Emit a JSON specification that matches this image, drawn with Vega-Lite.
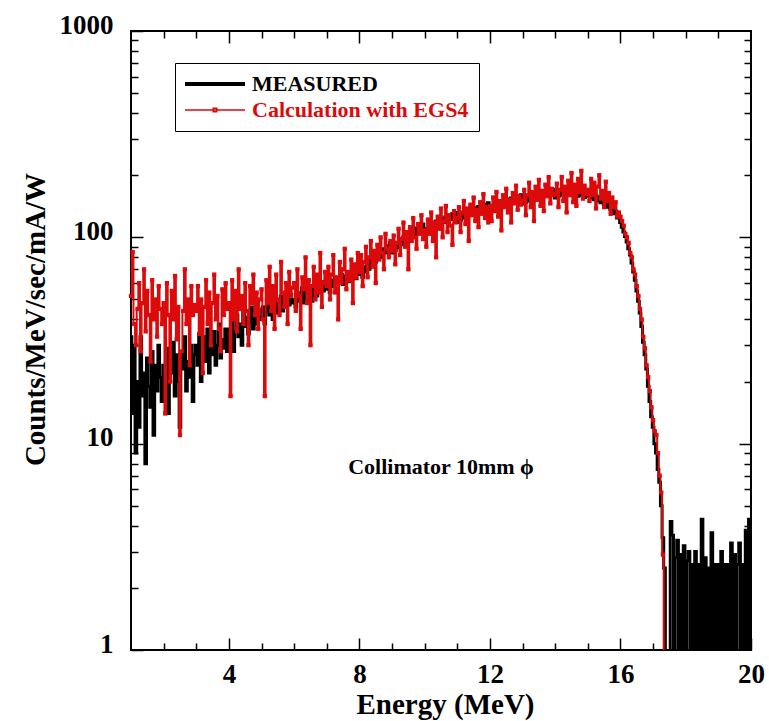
{
"$schema": "https://vega.github.io/schema/vega-lite/v6.json",
"width": 620, "height": 619,
"autosize": {"type": "none"},
"padding": {"left": 131, "top": 31, "right": 18, "bottom": 71},
"background": "white",
"config": {
 "view": {"stroke": "black", "strokeWidth": 2},
 "font": "Liberation Serif",
 "axis": {"labelFont": "Liberation Serif", "labelFontWeight": "bold", "labelFontSize": 27, "labelColor": "black", "titleFont": "Liberation Serif", "titleFontWeight": "bold", "titleColor": "black", "domain": false, "grid": false, "tickColor": "black", "tickWidth": 1.5}
},
"data": {"values": [
{"e":1.00,"m":33,"c":52},{"e":1.05,"m":14,"c":85},{"e":1.10,"m":30,"c":38},{"e":1.15,"m":9,"c":30},{"e":1.20,"m":20,"c":45},{"e":1.25,"m":12,"c":60},{"e":1.30,"m":33,"c":28},{"e":1.35,"m":17,"c":48},{"e":1.40,"m":22,"c":70},{"e":1.45,"m":8,"c":35},{"e":1.50,"m":26,"c":55},{"e":1.55,"m":19,"c":42},{"e":1.60,"m":15,"c":25},{"e":1.65,"m":28,"c":62},{"e":1.70,"m":11,"c":40},{"e":1.75,"m":24,"c":50},{"e":1.80,"m":18,"c":33},{"e":1.85,"m":30,"c":58},{"e":1.90,"m":21,"c":45},{"e":1.95,"m":16,"c":38},
{"e":2.00,"m":24,"c":48},{"e":2.05,"m":19,"c":14},{"e":2.10,"m":29,"c":60},{"e":2.15,"m":14,"c":42},{"e":2.20,"m":26,"c":20},{"e":2.25,"m":22,"c":55},{"e":2.30,"m":31,"c":40},{"e":2.35,"m":17,"c":65},{"e":2.40,"m":27,"c":32},{"e":2.45,"m":20,"c":46},{"e":2.50,"m":12,"c":11},{"e":2.55,"m":28,"c":28},{"e":2.60,"m":23,"c":44},{"e":2.65,"m":33,"c":70},{"e":2.70,"m":18,"c":38},{"e":2.75,"m":25,"c":50},{"e":2.80,"m":21,"c":24},{"e":2.85,"m":30,"c":58},{"e":2.90,"m":16,"c":42},{"e":2.95,"m":27,"c":47},
{"e":3.00,"m":30,"c":44},{"e":3.05,"m":24,"c":58},{"e":3.10,"m":34,"c":34},{"e":3.15,"m":20,"c":50},{"e":3.20,"m":28,"c":22},{"e":3.25,"m":33,"c":46},{"e":3.30,"m":25,"c":62},{"e":3.35,"m":36,"c":38},{"e":3.40,"m":22,"c":54},{"e":3.45,"m":31,"c":30},{"e":3.50,"m":27,"c":48},{"e":3.55,"m":35,"c":66},{"e":3.60,"m":24,"c":40},{"e":3.65,"m":30,"c":52},{"e":3.70,"m":38,"c":36},{"e":3.75,"m":26,"c":28},{"e":3.80,"m":32,"c":56},{"e":3.85,"m":29,"c":42},{"e":3.90,"m":36,"c":60},{"e":3.95,"m":28,"c":45},
{"e":4.00,"m":36,"c":48},{"e":4.05,"m":31,"c":17},{"e":4.10,"m":40,"c":62},{"e":4.15,"m":28,"c":40},{"e":4.20,"m":35,"c":55},{"e":4.25,"m":42,"c":35},{"e":4.30,"m":33,"c":70},{"e":4.35,"m":38,"c":45},{"e":4.40,"m":30,"c":52},{"e":4.45,"m":44,"c":38},{"e":4.50,"m":37,"c":60},{"e":4.55,"m":41,"c":44},{"e":4.60,"m":34,"c":30},{"e":4.65,"m":39,"c":58},{"e":4.70,"m":46,"c":48},{"e":4.75,"m":36,"c":66},{"e":4.80,"m":42,"c":42},{"e":4.85,"m":38,"c":54},{"e":4.90,"m":45,"c":36},{"e":4.95,"m":40,"c":50},
{"e":5.00,"m":41,"c":56},{"e":5.05,"m":46,"c":40},{"e":5.10,"m":38,"c":17},{"e":5.15,"m":44,"c":62},{"e":5.20,"m":49,"c":48},{"e":5.25,"m":42,"c":72},{"e":5.30,"m":47,"c":44},{"e":5.35,"m":40,"c":58},{"e":5.40,"m":50,"c":36},{"e":5.45,"m":45,"c":66},{"e":5.50,"m":43,"c":50},{"e":5.55,"m":48,"c":42},{"e":5.60,"m":52,"c":76},{"e":5.65,"m":44,"c":54},{"e":5.70,"m":49,"c":46},{"e":5.75,"m":46,"c":60},{"e":5.80,"m":51,"c":38},{"e":5.85,"m":47,"c":68},{"e":5.90,"m":53,"c":52},{"e":5.95,"m":48,"c":57},
{"e":6.00,"m":50,"c":60},{"e":6.05,"m":46,"c":44},{"e":6.10,"m":54,"c":70},{"e":6.15,"m":49,"c":52},{"e":6.20,"m":52,"c":36},{"e":6.25,"m":57,"c":64},{"e":6.30,"m":48,"c":56},{"e":6.35,"m":55,"c":80},{"e":6.40,"m":51,"c":48},{"e":6.45,"m":58,"c":62},{"e":6.50,"m":53,"c":30},{"e":6.55,"m":49,"c":58},{"e":6.60,"m":56,"c":72},{"e":6.65,"m":60,"c":50},{"e":6.70,"m":52,"c":66},{"e":6.75,"m":57,"c":54},{"e":6.80,"m":54,"c":84},{"e":6.85,"m":61,"c":46},{"e":6.90,"m":55,"c":60},{"e":6.95,"m":59,"c":68},
{"e":7.00,"m":56,"c":58},{"e":7.05,"m":60,"c":72},{"e":7.10,"m":54,"c":50},{"e":7.15,"m":62,"c":66},{"e":7.20,"m":58,"c":82},{"e":7.25,"m":64,"c":54},{"e":7.30,"m":57,"c":64},{"e":7.35,"m":63,"c":40},{"e":7.40,"m":60,"c":76},{"e":7.45,"m":66,"c":60},{"e":7.50,"m":59,"c":70},{"e":7.55,"m":65,"c":88},{"e":7.60,"m":62,"c":56},{"e":7.65,"m":68,"c":68},{"e":7.70,"m":61,"c":62},{"e":7.75,"m":67,"c":78},{"e":7.80,"m":64,"c":48},{"e":7.85,"m":70,"c":74},{"e":7.90,"m":63,"c":64},{"e":7.95,"m":69,"c":84},
{"e":8.00,"m":66,"c":68},{"e":8.05,"m":70,"c":82},{"e":8.10,"m":64,"c":58},{"e":8.15,"m":72,"c":76},{"e":8.20,"m":68,"c":90},{"e":8.25,"m":75,"c":64},{"e":8.30,"m":70,"c":80},{"e":8.35,"m":78,"c":96},{"e":8.40,"m":73,"c":72},{"e":8.45,"m":80,"c":86},{"e":8.50,"m":76,"c":60},{"e":8.55,"m":83,"c":92},{"e":8.60,"m":78,"c":78},{"e":8.65,"m":86,"c":100},{"e":8.70,"m":80,"c":84},{"e":8.75,"m":88,"c":70},{"e":8.80,"m":84,"c":104},{"e":8.85,"m":91,"c":88},{"e":8.90,"m":86,"c":80},{"e":8.95,"m":94,"c":96},
{"e":9.00,"m":84,"c":86},{"e":9.05,"m":90,"c":102},{"e":9.10,"m":86,"c":74},{"e":9.15,"m":94,"c":94},{"e":9.20,"m":89,"c":110},{"e":9.25,"m":97,"c":82},{"e":9.30,"m":92,"c":98},{"e":9.35,"m":100,"c":118},{"e":9.40,"m":95,"c":90},{"e":9.45,"m":103,"c":106},{"e":9.50,"m":97,"c":70},{"e":9.55,"m":106,"c":112},{"e":9.60,"m":100,"c":96},{"e":9.65,"m":108,"c":124},{"e":9.70,"m":103,"c":100},{"e":9.75,"m":111,"c":88},{"e":9.80,"m":106,"c":116},{"e":9.85,"m":114,"c":104},{"e":9.90,"m":108,"c":128},{"e":9.95,"m":116,"c":98},
{"e":10.00,"m":102,"c":108},{"e":10.05,"m":110,"c":90},{"e":10.10,"m":105,"c":122},{"e":10.15,"m":114,"c":104},{"e":10.20,"m":108,"c":132},{"e":10.25,"m":117,"c":96},{"e":10.30,"m":111,"c":118},{"e":10.35,"m":120,"c":80},{"e":10.40,"m":114,"c":126},{"e":10.45,"m":122,"c":110},{"e":10.50,"m":116,"c":138},{"e":10.55,"m":124,"c":100},{"e":10.60,"m":118,"c":120},{"e":10.65,"m":126,"c":142},{"e":10.70,"m":120,"c":106},{"e":10.75,"m":128,"c":128},{"e":10.80,"m":122,"c":114},{"e":10.85,"m":130,"c":92},{"e":10.90,"m":124,"c":134},{"e":10.95,"m":132,"c":118},
{"e":11.00,"m":118,"c":124},{"e":11.05,"m":126,"c":140},{"e":11.10,"m":121,"c":106},{"e":11.15,"m":129,"c":132},{"e":11.20,"m":124,"c":150},{"e":11.25,"m":132,"c":116},{"e":11.30,"m":126,"c":138},{"e":11.35,"m":134,"c":96},{"e":11.40,"m":129,"c":144},{"e":11.45,"m":137,"c":128},{"e":11.50,"m":131,"c":156},{"e":11.55,"m":139,"c":120},{"e":11.60,"m":133,"c":136},{"e":11.65,"m":141,"c":112},{"e":11.70,"m":135,"c":148},{"e":11.75,"m":143,"c":130},{"e":11.80,"m":137,"c":162},{"e":11.85,"m":145,"c":124},{"e":11.90,"m":139,"c":140},{"e":11.95,"m":147,"c":118},
{"e":12.00,"m":132,"c":142},{"e":12.05,"m":140,"c":120},{"e":12.10,"m":135,"c":156},{"e":12.15,"m":143,"c":134},{"e":12.20,"m":138,"c":166},{"e":12.25,"m":146,"c":126},{"e":12.30,"m":140,"c":150},{"e":12.35,"m":148,"c":108},{"e":12.40,"m":143,"c":160},{"e":12.45,"m":151,"c":140},{"e":12.50,"m":145,"c":172},{"e":12.55,"m":153,"c":132},{"e":12.60,"m":147,"c":152},{"e":12.65,"m":155,"c":118},{"e":12.70,"m":149,"c":164},{"e":12.75,"m":157,"c":146},{"e":12.80,"m":151,"c":178},{"e":12.85,"m":159,"c":136},{"e":12.90,"m":153,"c":158},{"e":12.95,"m":161,"c":144},
{"e":13.00,"m":145,"c":150},{"e":13.05,"m":153,"c":170},{"e":13.10,"m":148,"c":128},{"e":13.15,"m":156,"c":160},{"e":13.20,"m":150,"c":184},{"e":13.25,"m":158,"c":140},{"e":13.30,"m":152,"c":166},{"e":13.35,"m":160,"c":120},{"e":13.40,"m":154,"c":176},{"e":13.45,"m":162,"c":152},{"e":13.50,"m":156,"c":190},{"e":13.55,"m":164,"c":142},{"e":13.60,"m":158,"c":168},{"e":13.65,"m":166,"c":134},{"e":13.70,"m":160,"c":180},{"e":13.75,"m":168,"c":158},{"e":13.80,"m":162,"c":196},{"e":13.85,"m":170,"c":146},{"e":13.90,"m":163,"c":172},{"e":13.95,"m":171,"c":160},
{"e":14.00,"m":155,"c":162},{"e":14.05,"m":163,"c":182},{"e":14.10,"m":158,"c":140},{"e":14.15,"m":166,"c":170},{"e":14.20,"m":160,"c":196},{"e":14.25,"m":168,"c":150},{"e":14.30,"m":162,"c":176},{"e":14.35,"m":170,"c":132},{"e":14.40,"m":164,"c":188},{"e":14.45,"m":172,"c":160},{"e":14.50,"m":160,"c":205},{"e":14.55,"m":168,"c":148},{"e":14.60,"m":162,"c":180},{"e":14.65,"m":170,"c":142},{"e":14.70,"m":158,"c":192},{"e":14.75,"m":166,"c":166},{"e":14.80,"m":160,"c":210},{"e":14.85,"m":168,"c":154},{"e":14.90,"m":156,"c":178},{"e":14.95,"m":164,"c":162},
{"e":15.00,"m":158,"c":170},{"e":15.05,"m":166,"c":150},{"e":15.10,"m":155,"c":192},{"e":15.15,"m":162,"c":160},{"e":15.20,"m":152,"c":184},{"e":15.25,"m":160,"c":138},{"e":15.30,"m":150,"c":176},{"e":15.35,"m":157,"c":200},{"e":15.40,"m":147,"c":154},{"e":15.45,"m":154,"c":168},{"e":15.50,"m":144,"c":140},{"e":15.55,"m":150,"c":186},{"e":15.60,"m":140,"c":150},{"e":15.65,"m":146,"c":164},{"e":15.70,"m":136,"c":130},{"e":15.75,"m":140,"c":156},{"e":15.80,"m":130,"c":140},{"e":15.85,"m":134,"c":148},{"e":15.90,"m":124,"c":126},{"e":15.95,"m":128,"c":132},
{"e":16.00,"m":118,"c":126},{"e":16.05,"m":112,"c":120},{"e":16.10,"m":106,"c":114},{"e":16.15,"m":101,"c":104},{"e":16.20,"m":95,"c":100},{"e":16.25,"m":88,"c":94},{"e":16.30,"m":82,"c":84},{"e":16.35,"m":75,"c":80},{"e":16.40,"m":68,"c":70},{"e":16.45,"m":62,"c":66},{"e":16.50,"m":55,"c":58},{"e":16.55,"m":49,"c":52},{"e":16.60,"m":43,"c":45},{"e":16.65,"m":37,"c":40},{"e":16.70,"m":31,"c":33},{"e":16.75,"m":27,"c":29},{"e":16.80,"m":23,"c":24},{"e":16.85,"m":19,"c":21},{"e":16.90,"m":16,"c":18},{"e":16.95,"m":13.5,"c":15},
{"e":17.00,"m":12,"c":13},{"e":17.05,"m":10,"c":11.5},{"e":17.10,"m":9,"c":11},{"e":17.15,"m":7.5,"c":9},{"e":17.20,"m":6.5,"c":7},{"e":17.25,"m":5,"c":5.8},{"e":17.30,"m":3.5,"c":2.9},{"e":17.35,"m":2.5,"c":0.5},{"e":17.40,"m":0.5},{"e":17.45,"m":0.5},
{"e":17.50,"m":0.5},{"e":17.55,"m":4.2},{"e":17.60,"m":3.6},{"e":17.65,"m":0.5},{"e":17.70,"m":2.8},{"e":17.75,"m":3.4},{"e":17.80,"m":0.5},{"e":17.85,"m":2.9},{"e":17.90,"m":0.5},{"e":17.95,"m":3.2},
{"e":18.00,"m":0.5},{"e":18.05,"m":2.7},{"e":18.10,"m":3.0},{"e":18.15,"m":0.5},{"e":18.20,"m":2.6},{"e":18.25,"m":0.5},{"e":18.30,"m":3.0},{"e":18.35,"m":0.5},{"e":18.40,"m":2.6},{"e":18.45,"m":0.5},{"e":18.50,"m":4.3},{"e":18.55,"m":0.5},{"e":18.60,"m":2.8},{"e":18.65,"m":0.5},{"e":18.70,"m":2.5},{"e":18.75,"m":0.5},{"e":18.80,"m":3.7},{"e":18.85,"m":0.5},{"e":18.90,"m":2.6},{"e":18.95,"m":0.5},
{"e":19.00,"m":2.6},{"e":19.05,"m":0.5},{"e":19.10,"m":3.0},{"e":19.15,"m":0.5},{"e":19.20,"m":2.6},{"e":19.25,"m":0.5},{"e":19.30,"m":2.6},{"e":19.35,"m":0.5},{"e":19.40,"m":3.3},{"e":19.45,"m":0.5},{"e":19.50,"m":2.9},{"e":19.55,"m":0.5},{"e":19.60,"m":2.6},{"e":19.65,"m":3.3},{"e":19.70,"m":0.5},{"e":19.75,"m":2.6},{"e":19.80,"m":0.5},{"e":19.85,"m":3.8},{"e":19.90,"m":0.5},{"e":19.95,"m":4.3},{"e":20.00,"m":2.3}
]},
"layer": [
 {
  "mark": {"type": "line", "interpolate": "step", "strokeWidth": 3, "clip": true},
  "encoding": {
   "x": {"field": "e", "type": "quantitative", "scale": {"domain": [1, 20], "nice": false, "zero": false},
    "axis": {"orient": "bottom", "values": [2,3,4,5,6,7,8,9,10,11,12,13,14,15,16,17,18,19,20], "tickSize": {"condition": {"test": "datum.value % 4 === 0", "value": -12}, "value": -7}, "labelExpr": "datum.value % 4 === 0 ? datum.label : ''", "labelPadding": 23, "labelFontSize": 27, "labelFlush": false, "title": "Energy (MeV)", "titleFontSize": 29, "titleX": 314, "titleY": 63, "titleAlign": "center", "titleBaseline": "alphabetic"}},
   "y": {"field": "m", "type": "quantitative", "scale": {"type": "log", "domain": [1, 1000], "nice": false},
    "axis": {"orient": "left", "values": [1,2,3,4,5,6,7,8,9,10,20,30,40,50,60,70,80,90,100,200,300,400,500,600,700,800,900,1000], "format": "d", "tickSize": {"condition": {"test": "indexof([1,10,100,1000], datum.value) >= 0", "value": -12}, "value": -7}, "labelExpr": "indexof([1,10,100,1000], datum.value) >= 0 ? datum.label : ''", "labelPadding": 30, "labelOffset": -6, "labelFontSize": 27, "labelFlush": false, "title": "Counts/MeV/sec/mA/W", "titleFontSize": 29, "titleX": -96, "titleY": 288, "titleAngle": -90, "titleAlign": "center", "titleBaseline": "middle"}},
   "color": {"datum": "MEASURED", "type": "nominal", "scale": {"domain": ["MEASURED", "Calculation with EGS4"], "range": ["#000000", "#dc0a0a"]},
    "legend": {"orient": "none", "legendX": 44, "legendY": 32, "title": null, "symbolType": {"expr": "datum.value === 'MEASURED' ? 'M-1,0H1' : 'M-1,0H1M-0.06,-0.06H0.06V0.06H-0.06Z'"}, "symbolSize": 3600, "symbolOffset": 19, "symbolFillColor": "transparent", "symbolStrokeWidth": {"expr": "datum.value === 'MEASURED' ? 4 : 1.5"}, "labelColor": {"expr": "datum.value === 'MEASURED' ? 'black' : '#dc0a0a'"}, "labelExpr": "datum.value === 'MEASURED' ? datum.label : datum.label + '\u00a0\u00a0\u00a0\u00a0\u00a0\u00a0'", "labelFont": "Liberation Serif", "labelFontWeight": "bold", "labelFontSize": 22, "labelLimit": 0, "labelOffset": 26, "strokeColor": "black", "fillColor": "white", "padding": 10, "rowPadding": 4}}
  }
 },
 {
  "transform": [{"filter": "isValid(datum.c)"}],
  "mark": {"type": "line", "interpolate": "step", "strokeWidth": 2, "clip": true},
  "encoding": {
   "x": {"field": "e", "type": "quantitative",
    "axis": {"orient": "top", "values": [2,3,4,5,6,7,8,9,10,11,12,13,14,15,16,17,18,19], "tickSize": {"condition": {"test": "datum.value % 4 === 0", "value": -12}, "value": -7}, "labels": false, "title": null}},
   "y": {"field": "c", "type": "quantitative",
    "axis": {"orient": "right", "values": [2,3,4,5,6,7,8,9,10,20,30,40,50,60,70,80,90,100,200,300,400,500,600,700,800,900], "tickSize": {"condition": {"test": "indexof([10,100], datum.value) >= 0", "value": -12}, "value": -7}, "labels": false, "title": null}},
   "color": {"datum": "Calculation with EGS4", "type": "nominal"}
  }
 },
 {
  "transform": [{"filter": "isValid(datum.c) && datum.c >= 1"}],
  "mark": {"type": "point", "shape": "square", "size": 18, "filled": true, "color": "#dc0a0a", "opacity": 1},
  "encoding": {
   "x": {"field": "e", "type": "quantitative", "axis": null},
   "y": {"field": "c", "type": "quantitative", "axis": null}
  }
 },
 {
  "data": {"values": [{"label": "Collimator 10mm \u03d5"}]},
  "mark": {"type": "text", "font": "Liberation Serif", "fontWeight": "bold", "fontSize": 22, "align": "center", "baseline": "middle", "color": "black"},
  "encoding": {
   "text": {"field": "label"},
   "x": {"datum": 10.5, "type": "quantitative", "axis": null},
   "y": {"datum": 7.7, "type": "quantitative", "axis": null}
  }
 }
],
"resolve": {"axis": {"x": "independent", "y": "independent"}}
}
